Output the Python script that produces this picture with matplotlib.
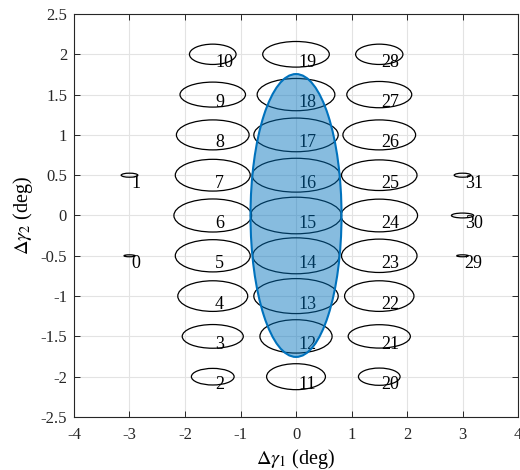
import matplotlib
matplotlib.use("Agg")
import matplotlib.pyplot as plt
from matplotlib.patches import Ellipse

plt.rcParams['font.family'] = ['Liberation Serif', 'DejaVu Serif']
plt.rcParams['mathtext.fontset'] = 'stix'
plt.rcParams['axes.unicode_minus'] = False

# beam centres (deg) and half-axes of their ellipses, index = beam number
cx = [-3, -3,
      -1.5, -1.5, -1.5, -1.5, -1.5, -1.5, -1.5, -1.5, -1.5,
      0, 0, 0, 0, 0, 0, 0, 0, 0,
      1.5, 1.5, 1.5, 1.5, 1.5, 1.5, 1.5, 1.5, 1.5,
      3, 3, 3]
cy = [-0.5, 0.5,
      -2, -1.5, -1, -0.5, 0, 0.5, 1, 1.5, 2,
      -2, -1.5, -1, -0.5, 0, 0.5, 1, 1.5, 2,
      -2, -1.5, -1, -0.5, 0, 0.5, 1, 1.5, 2,
      -0.5, 0, 0.5]
rx = [0.10, 0.15,
      0.385, 0.55, 0.63, 0.675, 0.70, 0.675, 0.655, 0.59, 0.42,
      0.53, 0.65, 0.76, 0.78, 0.82, 0.79, 0.76, 0.70, 0.60,
      0.375, 0.56, 0.625, 0.68, 0.69, 0.68, 0.655, 0.585, 0.426,
      0.105, 0.20, 0.15]
ry = [0.012, 0.025,
      0.103, 0.147, 0.19, 0.20, 0.205, 0.197, 0.186, 0.155, 0.126,
      0.161, 0.207, 0.217, 0.223, 0.227, 0.21, 0.209, 0.20, 0.159,
      0.107, 0.145, 0.19, 0.207, 0.203, 0.19, 0.186, 0.163, 0.126,
      0.012, 0.03, 0.025]

# coverage region
region_c = (0, 0)
region_rx = 0.82
region_ry = 1.755

fig = plt.figure(figsize=(5.2, 4.7), dpi=100)
ax = fig.add_axes([0.1423, 0.1128, 0.8539, 0.8574])

for i in range(len(cx)):
    e = Ellipse((cx[i], cy[i]), 2 * rx[i], 2 * ry[i], fill=False,
                edgecolor='black', lw=0.9, zorder=2)
    ax.add_patch(e)
    ax.text(cx[i] + 0.04, cy[i] - 0.1, str(i), fontsize=13,
            ha='left', va='center', color='black', zorder=3)

blue = (0, 0.447, 0.741)
reg = Ellipse(region_c, 2 * region_rx, 2 * region_ry,
              facecolor=blue + (0.47,), edgecolor=blue, lw=1.5, zorder=4)
ax.add_patch(reg)

ax.set_xlim(-4, 4)
ax.set_ylim(-2.5, 2.5)
ax.set_xticks([-4, -3, -2, -1, 0, 1, 2, 3, 4])
ax.set_yticks([-2.5, -2, -1.5, -1, -0.5, 0, 0.5, 1, 1.5, 2, 2.5])
ax.set_yticklabels(['-2.5', '-2', '-1.5', '-1', '-0.5', '0', '0.5',
                    '1', '1.5', '2', '2.5'])
ax.grid(True, color='#e3e3e3', lw=0.8, zorder=0)
ax.set_axisbelow(True)
ax.tick_params(direction='in', top=True, right=True, length=4,
               width=0.7, labelsize=12, colors='#262626', pad=7)
ax.tick_params(axis='y', pad=5)
for s in ax.spines.values():
    s.set_color('#262626')
    s.set_linewidth(0.8)

ax.set_xlabel(r'$\Delta\gamma_1$ (deg)', fontsize=14.5, labelpad=3)
ax.set_ylabel(r'$\Delta\gamma_2$ (deg)', fontsize=14.5, labelpad=4)

fig.savefig('out.png', dpi=100)
